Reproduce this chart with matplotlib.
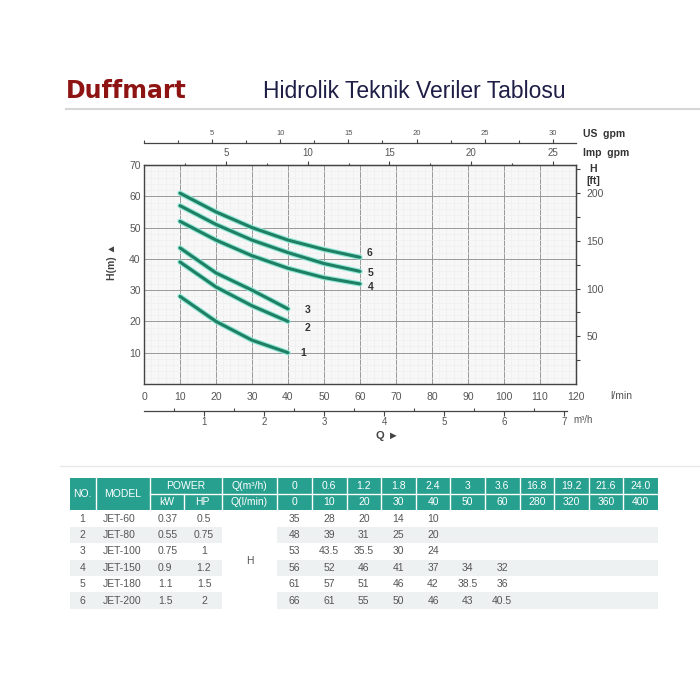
import numpy as np
import matplotlib
matplotlib.use("Agg")
import matplotlib.pyplot as plt
from matplotlib.patches import Rectangle

plt.rcParams['font.family'] = ['Liberation Sans', 'DejaVu Sans']

# table / curve data
models = ["JET-60", "JET-80", "JET-100", "JET-150", "JET-180", "JET-200"]
power_kw = [0.37, 0.55, 0.75, 0.9, 1.1, 1.5]
power_hp = [0.5, 0.75, 1, 1.2, 1.5, 2]
q_m3h = ["0", "0.6", "1.2", "1.8", "2.4", "3", "3.6", "16.8", "19.2", "21.6", "24.0"]
q_lmin = [0, 10, 20, 30, 40, 50, 60, 280, 320, 360, 400]
heads = [
    [35, 28, 20, 14, 10],
    [48, 39, 31, 25, 20],
    [53, 43.5, 35.5, 30, 24],
    [56, 52, 46, 41, 37, 34, 32],
    [61, 57, 51, 46, 42, 38.5, 36],
    [66, 61, 55, 50, 46, 43, 40.5],
]
# offsets (points) of the curve number labels from the curve ends
label_offsets = [(11, 0), (14, -5), (14, -1), (8, -2.5), (7.5, -1), (6.5, 3)]

LPM_PER_USGPM = 3.78541
LPM_PER_IMPGPM = 4.54609
FT_PER_M = 3.28084

fig = plt.figure(figsize=(7, 7), dpi=100)

# decoration layer in pixel coords
bg = fig.add_axes([0, 0, 1, 1], zorder=0)
bg.set_xlim(0, 700)
bg.set_ylim(700, 0)
bg.axis('off')

bg.text(66, 91, "Duffmart", fontsize=17, fontweight='bold', color='#8e1414',
        family='DejaVu Sans', va='center', ha='left')
bg.text(414, 92, "Hidrolik Teknik Veriler Tablosu", fontsize=16.5, color='#1e1e46',
        va='center', ha='center')
bg.plot([66, 700], [109, 109], color='#d6d6d6', lw=1.5)
bg.plot([60, 700], [466, 466], color='#e8e8e8', lw=1)

# ---------- chart ----------
ax = fig.add_axes([144 / 700, 1 - 384 / 700, 432 / 700, 219 / 700], zorder=2)
ax.set_facecolor('#f7f7f7')
ax.set_xlim(0, 120)
ax.set_ylim(0, 70)
ax.set_xticks(np.arange(0, 121, 10))
ax.set_yticks(np.arange(10, 71, 10))
ax.set_xticks(np.arange(0, 121, 2), minor=True)
ax.set_yticks(np.arange(0, 71, 2), minor=True)
ax.grid(which='minor', color='#efefef', lw=0.5)
ax.grid(which='major', color='#999999', lw=0.7)
ax.set_axisbelow(True)
ax.tick_params(which='both', length=0)
ax.tick_params(axis='x', labelsize=7.5, labelcolor='#555555', pad=5.5)
ax.tick_params(axis='y', labelsize=7.5, labelcolor='#555555', pad=2.4)
for s in ax.spines.values():
    s.set_color('#444444')
    s.set_linewidth(1)

for i, h in enumerate(heads):
    q = q_lmin[1:len(h)]
    hv = h[1:]
    ax.plot(q, hv, color='#8fe6d6', lw=3.8, solid_capstyle='round', zorder=3)
    ax.plot(q, hv, color='#1e7f63', lw=2.2, solid_capstyle='round', zorder=4)
    ax.annotate(str(i + 1), (q[-1], hv[-1]), xytext=label_offsets[i],
                textcoords='offset points', fontsize=7.5, fontweight='bold',
                color='#333333', ha='center', va='center')

# top axes: Imp gpm on the frame, US gpm above
imp = ax.secondary_xaxis('top', functions=(lambda x: x / LPM_PER_IMPGPM,
                                           lambda x: x * LPM_PER_IMPGPM))
imp.set_xticks([5, 10, 15, 20, 25])
imp.set_xticks(np.arange(2.5, 26, 5), minor=True)
imp.tick_params(which='major', direction='out', length=3, width=0.8, labelsize=7,
                labelcolor='#555555', color='#444444', pad=1.8)
imp.tick_params(which='minor', direction='out', length=1.8, width=0.8, color='#444444')

us = ax.secondary_xaxis(1 + 21.7 / 219, functions=(lambda x: x / LPM_PER_USGPM,
                                                   lambda x: x * LPM_PER_USGPM))
us.set_xticks([5, 10, 15, 20, 25, 30])
us.set_xticks([0, 2.5, 7.5, 12.5, 17.5, 22.5, 27.5], minor=True)
us.tick_params(which='major', direction='out', length=3.2, width=0.8, labelsize=5.5,
               labelcolor='#555555', color='#444444', pad=1.5)
us.tick_params(which='minor', direction='out', length=2, width=0.8, color='#444444')
for s in us.spines.values():
    s.set_color('#444444')
    s.set_linewidth(0.9)

# bottom m3/h axis
m3 = ax.secondary_xaxis(-27 / 219, functions=(lambda x: x * 0.06, lambda x: x / 0.06))
m3.set_xticks(np.arange(1, 8))
m3.set_xticks(np.arange(0.5, 7.1, 1), minor=True)
m3.tick_params(which='major', direction='out', length=3.5, width=0.8, labelsize=7,
               labelcolor='#555555', color='#444444', pad=1)
m3.tick_params(which='minor', direction='in', length=2.5, width=0.8, color='#444444')
for s in m3.spines.values():
    s.set_color('#444444')
    s.set_linewidth(0.9)
    s.set_bounds(0, 7.05)

# right ft axis
ft = ax.secondary_yaxis('right', functions=(lambda x: x * FT_PER_M, lambda x: x / FT_PER_M))
ft.set_yticks([50, 100, 150, 200])
ft.set_yticks([25, 75, 125, 175, 225], minor=True)
ft.tick_params(which='both', direction='out', length=3.1, width=0.8, color='#444444')
ft.tick_params(which='major', labelsize=7.5, labelcolor='#555555', pad=4.5)
ft.spines['right'].set_color('#444444')

# axis captions
cap = dict(color='#333333', fontweight='bold', fontsize=7.5, va='center')
bg.text(583, 134, "US  gpm", ha='left', **cap)
bg.text(583, 152.7, "Imp  gpm", ha='left', **cap)
bg.text(593, 169.5, "H", ha='center', **cap)
bg.text(593, 181, "[ft]", ha='center', **cap)
bg.text(610, 396, "l/min", ha='left', va='center', fontsize=7.5, color='#555555')
bg.text(573, 420, "m³/h", ha='left', va='center', fontsize=7, color='#555555')
bg.text(387, 436, "Q ►", ha='center', va='center', fontsize=8, fontweight='bold',
        color='#444444')
bg.text(112, 262, "H(m) ▲", ha='center', va='center', rotation=90, fontsize=7.5,
        fontweight='bold', color='#444444')

# ---------- table ----------
teal = '#27a08f'
band = '#eef1f1'
cols = [69.5, 95.5, 149.5, 183.5, 221.7, 277.3] + [277.3 + 34.6 * k for k in range(1, 12)]
y0, ymid, y1 = 477.7, 493.5, 510.3
row_h = 16.4

bg.add_patch(Rectangle((cols[0], y0), cols[-1] - cols[0], y1 - y0, color=teal, lw=0))
for xc in cols[1:-1]:
    if xc == cols[3]:
        bg.plot([xc, xc], [ymid, y1], color='white', lw=1)
    else:
        bg.plot([xc, xc], [y0, y1], color='white', lw=1)
bg.plot([cols[2], cols[-1]], [ymid, ymid], color='white', lw=1)

hdr = dict(color='white', fontsize=7.5, ha='center', va='center')
ytop = (y0 + ymid) / 2
ybot = (ymid + y1) / 2
bg.text((cols[0] + cols[1]) / 2, (y0 + y1) / 2, "NO.", **hdr)
bg.text((cols[1] + cols[2]) / 2, (y0 + y1) / 2, "MODEL", **hdr)
bg.text((cols[2] + cols[4]) / 2, ytop, "POWER", **hdr)
bg.text((cols[2] + cols[3]) / 2, ybot, "kW", **hdr)
bg.text((cols[3] + cols[4]) / 2, ybot, "HP", **hdr)
bg.text((cols[4] + cols[5]) / 2, ytop, "Q(m³/h)", **hdr)
bg.text((cols[4] + cols[5]) / 2, ybot, "Q(l/min)", **hdr)
for k in range(len(q_m3h)):
    xc = (cols[5 + k] + cols[6 + k]) / 2
    bg.text(xc, ytop, q_m3h[k], **hdr)
    bg.text(xc, ybot, str(q_lmin[k]), **hdr)

cell = dict(color='#555555', fontsize=7.5, va='center')
for i in range(len(models)):
    ytop_r = y1 + row_h * i
    yc = ytop_r + row_h / 2
    if i % 2 == 1:
        bg.add_patch(Rectangle((cols[0], ytop_r), cols[4] - cols[0], row_h, color=band, lw=0))
        bg.add_patch(Rectangle((cols[5], ytop_r), cols[-1] - cols[5], row_h, color=band, lw=0))
    bg.text((cols[0] + cols[1]) / 2, yc, str(i + 1), ha='center', **cell)
    bg.text(102.7, yc, models[i], ha='left', **cell)
    bg.text(158, yc, f"{power_kw[i]:g}", ha='left', **cell)
    bg.text(204, yc, f"{power_hp[i]:g}", ha='center', **cell)
    for k, v in enumerate(heads[i]):
        bg.text((cols[5 + k] + cols[6 + k]) / 2, yc, f"{v:g}", ha='center', **cell)
bg.text((cols[4] + cols[5]) / 2, y1 + row_h * 3 + 1, "H", ha='center', **cell)

fig.savefig("out.png", dpi=100)
